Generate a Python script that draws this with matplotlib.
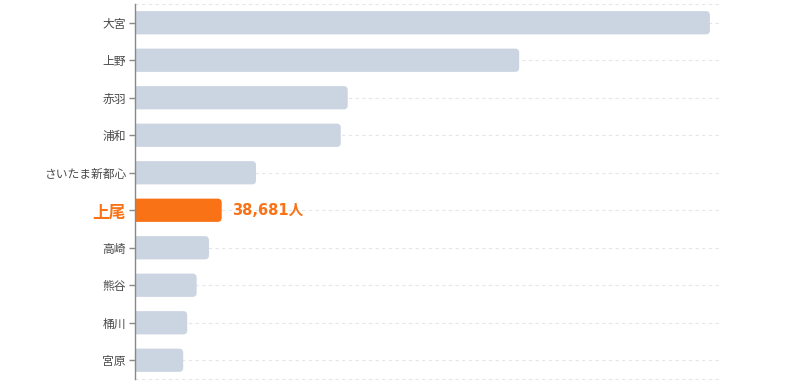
import matplotlib
matplotlib.use("Agg")
import matplotlib.pyplot as plt
from matplotlib.patches import FancyBboxPatch
from matplotlib.transforms import IdentityTransform

plt.rcParams["font.family"] = ["Noto Sans CJK JP", "DejaVu Sans"]

stations = ["大宮", "上野", "赤羽", "浦和", "さいたま新都心",
            "上尾", "高崎", "熊谷", "桶川", "宮原"]
riders = [256500, 171400, 94900, 91800, 54000,
          38681, 33000, 27500, 23300, 21500]
highlight = "上尾"
x_max = 261000

BAR = "#cbd5e1"
ORANGE = "#f97316"
AXIS = "#888888"
LABEL = "#4a4a4a"

fig = plt.figure(figsize=(8, 3.85), dpi=100)
ax = fig.add_axes([135 / 800, 6 / 385, 585 / 800, 375 / 385])

pos = list(range(len(stations)))
colors = [ORANGE if s == highlight else BAR for s in stations]
bars = ax.barh(pos, riders, height=0.62, color=colors, zorder=2)

ax.set_xlim(0, x_max)
ax.set_ylim(len(stations) - 0.5, -0.5)
ax.set_yticks(pos)
ax.set_yticklabels(stations, fontsize=8.5, color=LABEL)
ax.set_xticks([])

for sp in ["top", "right", "bottom"]:
    ax.spines[sp].set_visible(False)
ax.spines["left"].set_color(AXIS)
ax.spines["left"].set_linewidth(1)
ax.spines["left"].set_zorder(4)
ax.tick_params(axis="y", length=4, width=1, color=AXIS, pad=2.5)

# dashed guides at each row and at both edges
ax.grid(axis="y", color="#e3e6ea", linestyle=(0, (3, 3)), linewidth=0.8, zorder=0)
for edge in ax.get_ylim():
    ax.axhline(edge, color="#e3e6ea", linestyle=(0, (3, 3)), linewidth=0.8,
               zorder=0, clip_on=False)

# swap plain bars for rounded ones (drawn in pixel space)
fig.canvas.draw()
for rect, c in zip(bars, colors):
    (x0, y0), (x1, y1) = ax.transData.transform(
        [(rect.get_x(), rect.get_y()),
         (rect.get_x() + rect.get_width(), rect.get_y() + rect.get_height())])
    ylo, yhi = min(y0, y1), max(y0, y1)
    r = 4
    patch = FancyBboxPatch((x0 - r, ylo), x1 - x0 + r, yhi - ylo,
                           boxstyle=f"round,pad=0,rounding_size={r}",
                           transform=IdentityTransform(), facecolor=c,
                           edgecolor="none", zorder=2)
    patch.set_clip_box(ax.bbox)
    ax.add_artist(patch)
    rect.set_visible(False)

i = stations.index(highlight)
lab = ax.get_yticklabels()[i]
lab.set_color(ORANGE)
lab.set_fontweight("bold")
lab.set_fontsize(12)

ax.annotate(f"{riders[i]:,}人", xy=(riders[i], i), xytext=(7.5, 0),
            textcoords="offset points", va="center", ha="left",
            color=ORANGE, fontsize=10.5, fontweight="bold",
            family=["DejaVu Sans", "Noto Sans CJK JP"])

fig.savefig("out.png", dpi=100)
